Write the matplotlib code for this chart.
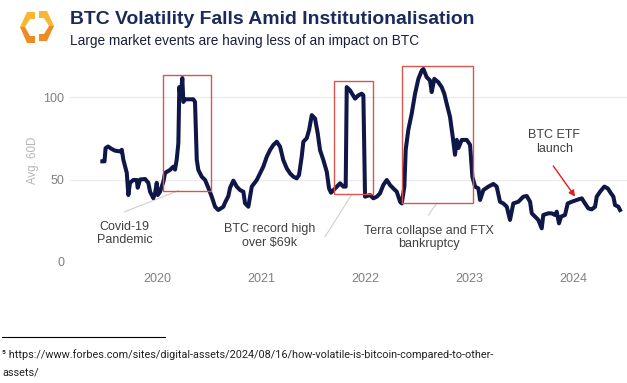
import matplotlib
matplotlib.use("Agg")
import matplotlib.pyplot as plt
from matplotlib.patches import Rectangle, Polygon

plt.rcParams['font.family'] = ['Liberation Sans', 'DejaVu Sans']

# ---- data (decimal years, 60D avg volatility) ----
years = [2019.474, 2019.495, 2019.505, 2019.529, 2019.564, 2019.596, 2019.644, 2019.661,
         2019.676, 2019.709, 2019.724, 2019.740, 2019.772, 2019.805, 2019.814, 2019.837,
         2019.885, 2019.916, 2019.933, 2019.964, 2019.981, 2019.997, 2020.007, 2020.029,
         2020.061, 2020.077, 2020.125, 2020.157, 2020.173, 2020.189, 2020.205, 2020.214,
         2020.228, 2020.243, 2020.253, 2020.269, 2020.349, 2020.365, 2020.382, 2020.397,
         2020.430, 2020.462, 2020.493, 2020.526, 2020.558, 2020.589, 2020.638, 2020.654,
         2020.686, 2020.702, 2020.734, 2020.766, 2020.798, 2020.830, 2020.846, 2020.878,
         2020.894, 2020.911, 2020.959, 2020.990, 2021.022, 2021.055, 2021.087, 2021.118,
         2021.151, 2021.183, 2021.214, 2021.247, 2021.279, 2021.311, 2021.343, 2021.365,
         2021.391, 2021.407, 2021.439, 2021.462, 2021.488, 2021.519, 2021.545, 2021.567,
         2021.599, 2021.632, 2021.654, 2021.673, 2021.712, 2021.760, 2021.791, 2021.814,
         2021.824, 2021.856, 2021.904, 2021.936, 2021.968, 2021.984, 2022.000, 2022.048,
         2022.080, 2022.113, 2022.144, 2022.176, 2022.209, 2022.240, 2022.272, 2022.305,
         2022.337, 2022.353, 2022.378, 2022.391, 2022.416, 2022.449, 2022.481, 2022.513,
         2022.545, 2022.561, 2022.593, 2022.625, 2022.641, 2022.666, 2022.704, 2022.737,
         2022.762, 2022.785, 2022.817, 2022.843, 2022.865, 2022.882, 2022.897, 2022.930,
         2022.978, 2023.010, 2023.032, 2023.058, 2023.090, 2023.106, 2023.138, 2023.186,
         2023.234, 2023.266, 2023.298, 2023.330, 2023.363, 2023.394, 2023.426, 2023.474,
         2023.522, 2023.555, 2023.587, 2023.603, 2023.635, 2023.666, 2023.699, 2023.714,
         2023.763, 2023.795, 2023.827, 2023.843, 2023.865, 2023.885, 2023.923, 2023.949,
         2023.987, 2024.036, 2024.084, 2024.115, 2024.147, 2024.180, 2024.212, 2024.228,
         2024.260, 2024.301, 2024.334, 2024.365, 2024.388, 2024.404, 2024.436, 2024.452]
vol = [61, 61, 69, 70, 68.5, 67.5, 67, 68,
       62, 54, 40.6, 48, 49.7, 49.7, 45, 50,
       50.3, 48, 42.6, 38.7, 41.6, 48, 40.6, 42.6,
       48.7, 54, 55.8, 57.8, 56, 62, 72, 106,
       100, 111.5, 97, 98.6, 98.6, 97, 62, 55.8,
       51.7, 49.7, 45, 39.6, 33.5, 31.5, 33.5, 36,
       40, 45, 49.3, 45.7, 43.6, 42.6, 35.6, 33.5,
       39.6, 45.7, 49.7, 53.7, 57.8, 63.8, 67.9, 70.9,
       72.9, 69.9, 61.8, 56.8, 53.7, 51.7, 50.7, 52.7,
       63.8, 72.9, 75, 80, 89, 87, 78, 67.9,
       61.8, 54.7, 44.6, 42, 44.6, 47.7, 45.7, 45.7,
       106, 104, 99, 101, 102, 101, 39.6, 40.6,
       38.6, 39.6, 41.6, 46.7, 49.7, 46.7, 44.6, 42.6,
       36.5, 35.5, 45.7, 67.9, 80, 90, 102, 111,
       116, 117, 112, 110, 103, 111, 109, 106,
       102, 96, 88, 76, 65, 74, 69, 74,
       74, 71, 51.7, 45.7, 44.6, 37.6, 43.6, 45.7,
       47.3, 45.7, 36.5, 35.5, 33.5, 25.5, 35.5, 36.5,
       39.6, 40, 36.5, 29.5, 27.5, 25.5, 20.4, 28.5,
       29.5, 29.5, 28.5, 30.5, 23.4, 27.5, 28.5, 35.5,
       36.5, 37.6, 38.6, 35.5, 32.5, 31.9, 33.5, 39.6,
       42.6, 45.7, 44.6, 41.6, 39.6, 34.5, 33.5, 31.5]

year_ticks = [2020, 2021, 2022, 2023, 2024]
year_labels = ["2020", "2021", "2022", "2023", "2024"]
y_ticks = [0, 50, 100]

# event boxes: (x0, x1, y0, y1)
box_x0 = [2020.061, 2021.705, 2022.355]
box_x1 = [2020.516, 2022.080, 2023.035]
box_y0 = [43.2, 41.2, 36.0]
box_y1 = [113.3, 109.9, 118.8]

ann_texts = ["Covid-19\nPandemic", "BTC record high\nover $69k", "Terra collapse and FTX\nbankruptcy"]
ann_text_x = [2019.69, 2021.08, 2022.61]
ann_text_y = [17.3, 15.7, 15.0]
lead_x0 = [2019.69, 2021.615, 2022.61]
lead_y0 = [30.5, 15.3, 28.5]
lead_x1 = [2020.205, 2021.87, 2022.69]
lead_y1 = [43.2, 40.6, 35.6]

etf_text = "BTC ETF\nlaunch"
etf_text_xy = (2023.82, 72.7)
etf_arrow_from = (2023.81, 58.2)
etf_arrow_to = (2024.02, 39.6)

W, H = 627, 383
fig = plt.figure(figsize=(W / 100, H / 100), dpi=100)

def fx(px):
    return px / W

def fy(py):
    return 1 - py / H

ax = fig.add_axes([fx(70), fy(262), fx(627) - fx(70), fy(55.75) - fy(262)])
ax.set_xlim(2019.163, 2024.519)
ax.set_ylim(0, 125)
for s in ax.spines.values():
    s.set_visible(False)
ax.set_yticks(y_ticks)
ax.set_xticks(year_ticks)
ax.set_xticklabels(year_labels)
ax.tick_params(length=0, labelsize=9, labelcolor='#808080')
ax.tick_params(axis='x', pad=8)
ax.tick_params(axis='y', pad=4)
ax.grid(axis='y', color='#ececec', lw=0.9)
ax.set_axisbelow(True)

ax.plot(years, vol, color='#0f1648', lw=2.9, solid_joinstyle='round', zorder=3)

for x0, x1, y0, y1 in zip(box_x0, box_x1, box_y0, box_y1):
    ax.add_patch(Rectangle((x0, y0), x1 - x0, y1 - y0, fill=False,
                           edgecolor='#d9534f', lw=1.0, zorder=4))

for t, tx, ty, a0, b0, a1, b1 in zip(ann_texts, ann_text_x, ann_text_y,
                                     lead_x0, lead_y0, lead_x1, lead_y1):
    ax.text(tx, ty, t, ha='center', va='center', fontsize=9, color='#404040',
            linespacing=1.15, zorder=5)
    ax.plot([a0, a1], [b0, b1], color='#cfcfcf', lw=0.8, zorder=2)

ax.text(etf_text_xy[0], etf_text_xy[1], etf_text, ha='center', va='center',
        fontsize=9, color='#404040', linespacing=1.15)
ax.annotate("", xy=etf_arrow_to, xytext=etf_arrow_from,
            arrowprops=dict(arrowstyle='-|>', color='#e0201b', lw=1.0,
                            mutation_scale=9, shrinkA=0, shrinkB=0))

fig.text(fx(33), fy(160), "Avg. 60D", rotation=90, ha='center', va='center',
         fontsize=8.3, color='#b5b5b5')

# title & subtitle
fig.text(fx(70), fy(19), "BTC Volatility Falls Amid Institutionalisation",
         fontsize=13.95, fontweight='bold', color='#1b2a5c', ha='left', va='center')
fig.text(fx(70), fy(41), "Large market events are having less of an impact on BTC",
         fontsize=9.8, color='#1a1f3d', ha='left', va='center')

# logo
left_top = [(35, 12), (27, 12), (20, 27), (25, 27), (30, 19), (35, 19)]
left_bot = [(20, 27), (27, 43), (35, 43), (35, 36), (30, 36), (25, 27)]
right_top = [(39, 11), (47, 11), (54, 26), (49, 26), (44, 18), (39, 18)]
right_bot = [(54, 26), (47, 41), (39, 41), (39, 34), (44, 34), (49, 26)]
for pts, col in [(left_top, '#f7b733'), (left_bot, '#f08a24'),
                 (right_top, '#f7b733'), (right_bot, '#f08a24')]:
    fig.patches.append(Polygon([(fx(a), fy(b)) for a, b in pts], closed=True,
                               transform=fig.transFigure, facecolor=col,
                               edgecolor='none'))

# footnote
fig.add_artist(plt.Line2D([fx(2), fx(165)], [fy(337), fy(337)],
                          transform=fig.transFigure, color='black', lw=0.8))
fig.text(fx(2), fy(355), "\u2075 https://www.forbes.com/sites/digital-assets/2024/08/16/how-volatile-is-bitcoin-compared-to-other-",
         fontsize=7.85, color='#222222', ha='left', va='center',
         family=['Roboto', 'DejaVu Sans'])
fig.text(fx(2), fy(373), "assets/", fontsize=7.85, color='#222222', ha='left',
         va='center', family=['Roboto', 'DejaVu Sans'])

fig.savefig("out.png", dpi=100)
